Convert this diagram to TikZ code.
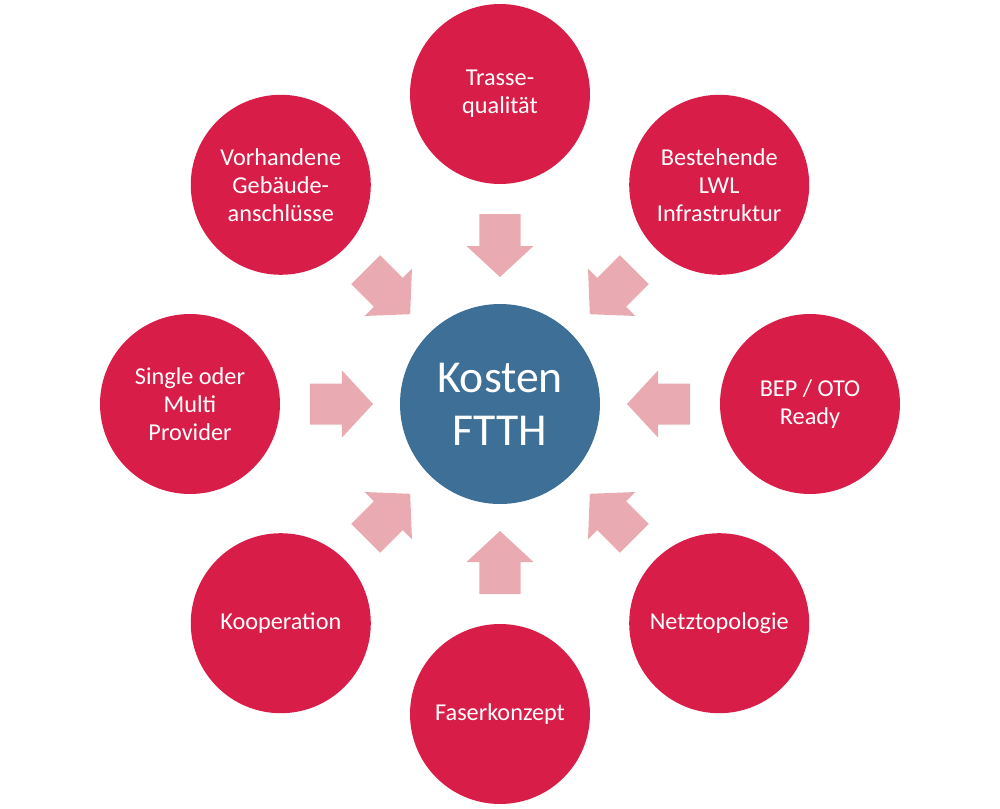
\documentclass[tikz,border=0pt]{standalone}
\usepackage{fontspec}
\setmainfont{Carlito}
\usetikzlibrary{positioning}
\definecolor{factorred}{RGB}{216,30,72}
\definecolor{costblue}{RGB}{62,111,150}
\definecolor{arrowpink}{RGB}{233,171,177}

\begin{document}
\begin{tikzpicture}[x=2cm, y=2cm,
	factor/.style={circle, fill=factorred, text=white, minimum size=3.6cm, inner sep=0pt, align=center, font=\fontsize{13.8}{16}\selectfont},
	hub/.style={circle, fill=costblue, text=white, minimum size=4cm, inner sep=0pt, align=center, font=\fontsize{26}{30.2}\selectfont},
	blockarrow/.style={fill=arrowpink}]
	% Frame
	\useasboundingbox (-5,-4.04) rectangle (5,4.04);
	
	% Center
	\node[hub] (kosten) at (0,0) {Kosten\\FTTH};
	
	% Factors around the center
	\node[factor] (trasse) at (90:3.1) {Trasse-\\qualität};
	\node[factor] (lwl) at (45:3.1) {Bestehende\\LWL\\Infrastruktur};
	\node[factor] (bep) at (0:3.1) {BEP / OTO\\Ready};
	\node[factor] (netz) at (-45:3.1) {Netztopologie};
	\node[factor] (faser) at (-90:3.1) {Faserkonzept};
	\node[factor] (koop) at (-135:3.1) {Kooperation};
	\node[factor] (provider) at (180:3.1) {Single oder\\Multi\\Provider};
	\node[factor] (gebaeude) at (135:3.1) {Vorhandene\\Gebäude-\\anschlüsse};
	
	% Block arrows pointing inwards
	\foreach \n/\a in {trasse/90, lwl/45, bep/0, netz/-45, faser/-90, koop/-135, provider/180, gebaeude/135}
		\fill[blockarrow, shift={(kosten)}, rotate=\a] (1.9,0.205) -- (1.58,0.205) -- (1.58,0.335) -- (1.27,0) -- (1.58,-0.335) -- (1.58,-0.205) -- (1.9,-0.205) -- cycle;
	
\end{tikzpicture}
\end{document}
